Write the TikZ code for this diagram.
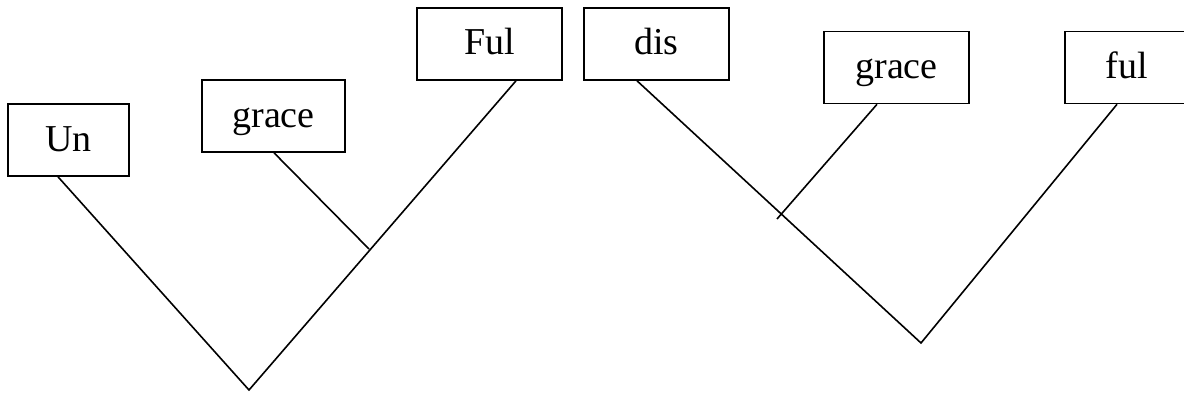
\documentclass[tikz,border=0pt]{standalone}
\usepackage{fontspec}
\setmainfont{Liberation Serif}
\begin{document}
\begin{tikzpicture}[x=1pt,y=-1pt,
  line width=1.6pt,
  wordbox/.style={draw, line width=1.6pt, inner sep=0pt, minimum height=72pt,
    text height=26pt, text depth=4pt, font=\fontsize{38}{42}\selectfont},
  branch/.style={line width=1.6pt, line join=miter}]
\useasboundingbox (0,0) rectangle (1184,396);
% left tree
\node[wordbox, minimum width=121pt] (Un) at (68.5,140) {Un};
\node[wordbox, minimum width=143pt] (graceL) at (273.5,116) {grace};
\node[wordbox, minimum width=145pt] (Ful) at (489.5,44) {Ful};
\coordinate (apexL) at (249,390);
\coordinate (joinL) at (369,249);
\draw[branch] ([xshift=-10.5pt]Un.south) -- (apexL) -- ([xshift=26.5pt]Ful.south);
\draw[branch] ([xshift=0.5pt]graceL.south) -- (joinL);
% right tree
\node[wordbox, minimum width=145pt] (dis) at (656.5,44) {dis};
\node[wordbox, minimum width=145pt] (graceR) at (896.5,67.5) {grace};
\node[wordbox, minimum width=124pt] (ful) at (1127,67.5) {ful};
\coordinate (apexR) at (921,343);
\coordinate (joinR) at (777,219);
\draw[branch] ([xshift=-19.5pt]dis.south) -- (apexR) -- ([xshift=-10pt]ful.south);
\draw[branch] ([xshift=-19.5pt]graceR.south) -- (joinR);
\end{tikzpicture}
\end{document}
